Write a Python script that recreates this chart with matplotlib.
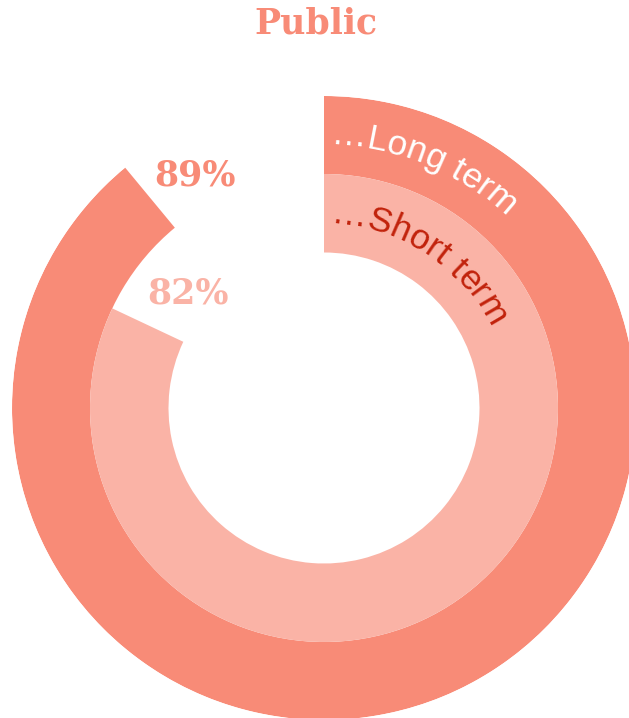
import numpy as np
import matplotlib
matplotlib.use('Agg')
import matplotlib.pyplot as plt
from matplotlib.font_manager import FontProperties

# data
title = 'Public'
categories = ['Long term', 'Short term']
values = [89, 82]  # percent

ring_colors = ['#F88B77', '#FAB3A6']
label_colors = ['white', '#C1220B']

W, H = 629, 718
fig = plt.figure(figsize=(W / 100, H / 100), dpi=100)

# center of the rings in pixels and radii
cx, cy, R = 324, 408, 312
ax = fig.add_axes([(cx - R) / W, (H - cy - R) / H, 2 * R / W, 2 * R / H],
                  projection='polar')
ax.set_theta_zero_location('N')
ax.set_theta_direction(-1)
ax.set_rlim(0, R)
ax.axis('off')

ring_bottom = [234, 155.5]
ring_width = [78, 78.5]

for val, bot, w, col in zip(values, ring_bottom, ring_width, ring_colors):
    ax.bar(0, w, width=val / 100 * 2 * np.pi, bottom=bot, align='edge',
           color=col, edgecolor='none', linewidth=0)

# curved labels along each ring
fig.canvas.draw()
renderer = fig.canvas.get_renderer()
fp = FontProperties(family='Liberation Sans', size=25.5)


def text_width(s):
    if not s:
        return 0.0
    w, h, d = renderer.get_text_width_height_descent(s, fp, ismath=False)
    return w


def curved_text(s, radius, color, start=6):
    for i, ch in enumerate(s):
        if ch == ' ':
            continue
        mid = start + (text_width(s[:i]) + text_width(s[:i + 1])) / 2
        theta = mid / radius
        ax.text(theta, radius, ch, fontproperties=fp, color=color,
                rotation=-np.degrees(theta), rotation_mode='anchor',
                ha='center', va='baseline')


baselines = [263, 184]
for cat, rb, col in zip(categories, baselines, label_colors):
    curved_text('\u2026' + cat, rb, col)

# percentage labels in the open gap
label_pos = [(331, 266), (310, 178)]
for val, (ang, rr), col in zip(values, label_pos, ring_colors):
    ax.text(np.radians(ang), rr, f'{val}%', color=col, fontsize=25,
            fontfamily='DejaVu Serif', fontweight='bold',
            ha='center', va='center')

fig.text(316 / W, 1 - 24 / H, title, color=ring_colors[0], fontsize=25,
         fontfamily='DejaVu Serif', fontweight='bold', ha='center', va='center')

fig.savefig('out.png', dpi=100)
